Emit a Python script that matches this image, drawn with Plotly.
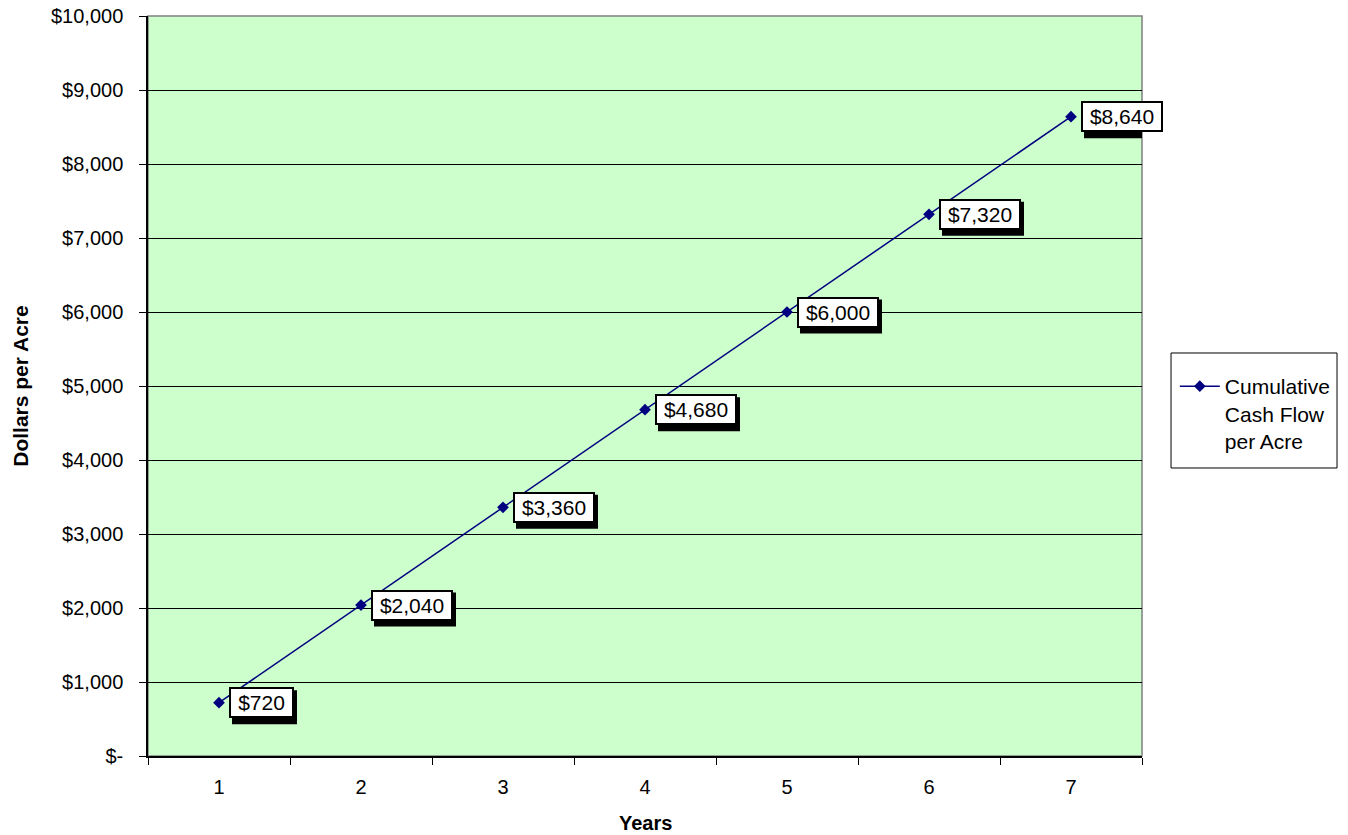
import plotly.graph_objects as go

years = [1, 2, 3, 4, 5, 6, 7]
cum_cash = [720, 2040, 3360, 4680, 6000, 7320, 8640]
y_ticks = [0, 1000, 2000, 3000, 4000, 5000, 6000, 7000, 8000, 9000, 10000]
y_ticktext = ["$-", "$1,000", "$2,000", "$3,000", "$4,000", "$5,000",
              "$6,000", "$7,000", "$8,000", "$9,000", "$10,000"]
series_name = "Cumulative<br>Cash Flow<br>per Acre"

FONT = "Liberation Sans, Arial, sans-serif"
NAVY = "#000080"
LABEL_SIZE = 21

# Arial / Liberation Sans advance widths (em)
CHAR_EM = {",": 0.278, ".": 0.278, "$": 0.556}


def text_width(s, size):
    return sum(CHAR_EM.get(c, 0.556) for c in s) * size


fig = go.Figure()
fig.add_trace(go.Scatter(
    x=years, y=cum_cash, mode="lines+markers", name=series_name,
    line=dict(color=NAVY, width=1.5),
    marker=dict(symbol="diamond", size=9, color=NAVY),
))

annotations = []
shapes = [
    dict(type="rect", xref="paper", yref="paper", x0=0, y0=0, x1=1, y1=1,
         line=dict(color="#808080", width=1.5), layer="below"),
    # legend frame
    dict(type="rect", xref="paper", yref="paper", x0=1.0292, x1=1.1962,
         y0=0.3892, y1=0.5446, fillcolor="white",
         line=dict(color="black", width=1), layer="below"),
]
BOX_H = 27
BW = 2
for xv, yv in zip(years, cum_cash):
    txt = f"${yv:,}"
    w = round(text_width(txt, LABEL_SIZE) + 14)
    outer_w = w + 2 * BW
    outer_h = BOX_H + 2 * BW
    # drop shadow (pixel-sized, anchored to the data point)
    shapes.append(dict(
        type="rect", xref="x", yref="y", xsizemode="pixel", ysizemode="pixel",
        xanchor=xv, yanchor=yv,
        x0=10 + 3, x1=10 + outer_w + 3,
        y0=-outer_h / 2 - 6, y1=outer_h / 2 - 3,
        fillcolor="black", line=dict(width=0), layer="above",
    ))
    annotations.append(dict(
        x=xv, y=yv, xref="x", yref="y", text=txt, showarrow=False,
        xanchor="left", yanchor="middle", xshift=10, align="center",
        width=w, height=BOX_H, valign="middle",
        font=dict(family=FONT, size=LABEL_SIZE, color="black"),
        bgcolor="white", bordercolor="black", borderwidth=BW, borderpad=0,
    ))

annotations.append(dict(
    x=0.5, y=-0.0905, xref="paper", yref="paper", text="<b>Years</b>",
    showarrow=False, xanchor="center", yanchor="middle",
    font=dict(family=FONT, size=20, color="black"),
))
annotations.append(dict(
    x=-0.129, y=0.5, xref="paper", yref="paper", text="<b>Dollars per Acre</b>",
    showarrow=False, xanchor="center", yanchor="middle", textangle=-90,
    font=dict(family=FONT, size=21, color="black"),
))

# page body has an 8px margin, so the figure is 8px smaller and margins shifted
fig.update_layout(
    width=1340, height=827,
    margin=dict(l=140, r=206, t=8, b=79, autoexpand=False),
    paper_bgcolor="white",
    plot_bgcolor="#CCFFCC",
    font=dict(family=FONT, size=20, color="black"),
    showlegend=True,
    legend=dict(
        x=1.033, y=0.4628, xanchor="left", yanchor="middle",
        borderwidth=0, bgcolor="rgba(0,0,0,0)",
        font=dict(family=FONT, size=21, color="black"),
        itemwidth=40, valign="top",
    ),
    annotations=annotations,
    shapes=shapes,
)

fig.update_xaxes(
    range=[0.5, 7.5], tickvals=years, ticktext=[str(v) for v in years],
    showgrid=False, zeroline=False, ticks="", showline=True, automargin=False,
    linecolor="black", linewidth=1.5, ticklabelstandoff=12,
    minor=dict(tick0=0.5, dtick=1, ticks="outside", ticklen=7,
               tickcolor="black", tickwidth=1, showgrid=False),
    tickfont=dict(family=FONT, size=20, color="black"),
)
fig.update_yaxes(
    range=[0, 10000], tickvals=y_ticks, ticktext=y_ticktext,
    showgrid=True, gridcolor="black", gridwidth=1, zeroline=False,
    ticks="outside", ticklen=7, tickcolor="black", tickwidth=1, automargin=False,
    showline=True, linecolor="black", linewidth=1.5, ticklabelstandoff=12,
    ticklabeloverflow="allow",
    tickfont=dict(family=FONT, size=20, color="black"),
)

fig.write_html("out.html")
